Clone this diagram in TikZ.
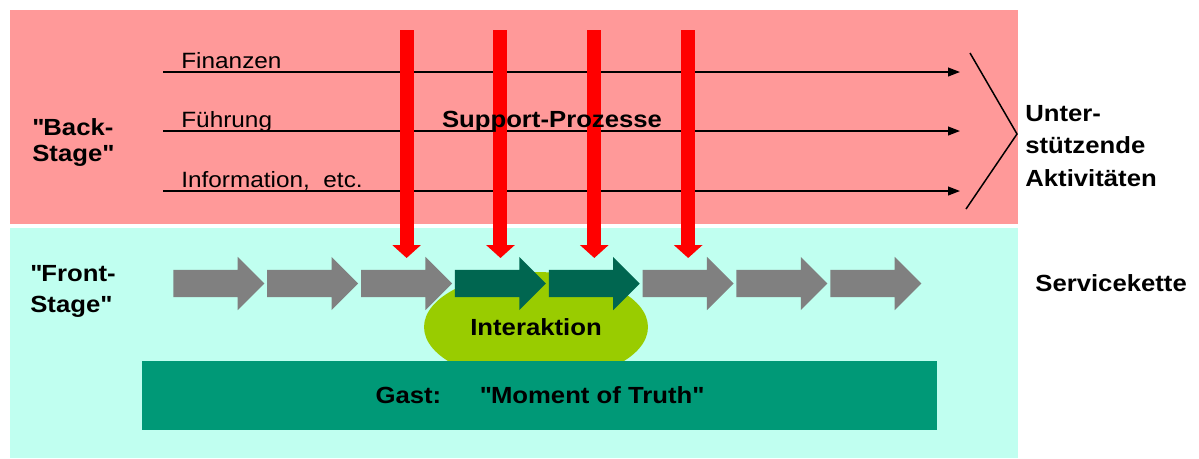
\documentclass[tikz,border=0pt]{standalone}
\usepackage{fontspec}
\setmainfont{Liberation Sans}[FakeStretch=1.1]
\usetikzlibrary{arrows.meta,shapes.arrows,shapes.geometric,positioning,calc}

\definecolor{backpink}{HTML}{FF9999}
\definecolor{frontaqua}{HTML}{C0FFF0}
\definecolor{stepgray}{HTML}{808080}
\definecolor{keygreen}{HTML}{006650}
\definecolor{meetgreen}{HTML}{99CC00}
\definecolor{truthgreen}{HTML}{009977}
\definecolor{supportred}{HTML}{FF0000}

\newcommand{\qq}{\textquotedbl}

\begin{document}
\begin{tikzpicture}[x=0.02cm,y=-0.02cm,
    itemtext/.style={font=\fontsize{12.6}{15}\selectfont, anchor=base west, inner sep=0pt},
    heading/.style={font=\fontsize{13.3}{16}\selectfont\bfseries, inner sep=0pt},
    stepbox/.style={single arrow, fill=stepgray, draw=none, inner sep=0pt,
      text height=0.53cm, text depth=0pt, minimum height=1.82cm,
      single arrow head extend=0.26cm, anchor=tail},
    keystep/.style={stepbox, fill=keygreen},
    flow/.style={line width=0.85pt, -{Triangle[length=6.8pt,width=5pt]}},
    support/.style={supportred, line width=0.28cm, -{Triangle[length=0.26cm,width=0.56cm]}}]
  \useasboundingbox (0,0) rectangle (1199,458);

  % back stage and front stage
  \fill[backpink] (10,10) rectangle (1018,224);
  \fill[frontaqua] (10,228) rectangle (1018,458);

  % support lines
  \coordinate (lineend) at (960,0);
  \foreach \y/\name/\txt in {72/fin/Finanzen, 131/fuehr/Führung, 191/info/{Information,~ etc.}} {
    \coordinate (\name) at (163,\y);
    \draw[flow] (\name) -- (\name -| lineend);
    \node[itemtext] (\name-text) at (181,\y-4) {\txt};
  }
  \draw[line width=0.85pt] (970,53) -- (1017,134) -- (966,209);

  % interaction and guest
  \node[ellipse, fill=meetgreen, minimum width=4.48cm, minimum height=2.2cm, heading]
    (meet) at (536,327) {Interaktion};
  \node[fill=truthgreen, minimum width=15.9cm, minimum height=1.38cm, heading]
    (truth) at (539.5,395.5) {Gast:\hspace{22pt}\qq Moment of Truth\qq};

  % service chain
  \foreach \i/\sty in {1/stepbox,2/stepbox,3/stepbox,4/keystep,5/keystep,6/stepbox,7/stepbox,8/stepbox}
    \node[\sty] (s\i) at ({173+93.85*(\i-1)},283.5) {};

  % support processes feeding the chain
  \coordinate (redtop) at (0,30);
  \coordinate (headtop) at (0,258);
  \foreach \i in {3,...,6} {
    \coordinate (m\i) at ($(s\i.tail)!0.5!(s\i.tip)$);
    \draw[support] (m\i |- redtop) -- (m\i |- headtop);
  }

  \node[heading, anchor=base] (support) at (552,127) {Support-Prozesse};
  \node[heading, align=left, anchor=north west, font=\fontsize{13.3}{14.8}\selectfont\bfseries]
    (back) at (32,118) {\qq Back-\\Stage\qq};
  \node[heading, align=left, anchor=north west, font=\fontsize{13.3}{17.6}\selectfont\bfseries]
    (front) at (30,265) {\qq Front-\\Stage\qq};
  \node[heading, align=left, anchor=north west, font=\fontsize{13.3}{18.4}\selectfont\bfseries]
    (activities) at (1025,105) {Unter-\\stützende\\Aktivitäten};
  \node[heading, anchor=west] (chain) at (1035,283) {Servicekette};
\end{tikzpicture}
\end{document}
